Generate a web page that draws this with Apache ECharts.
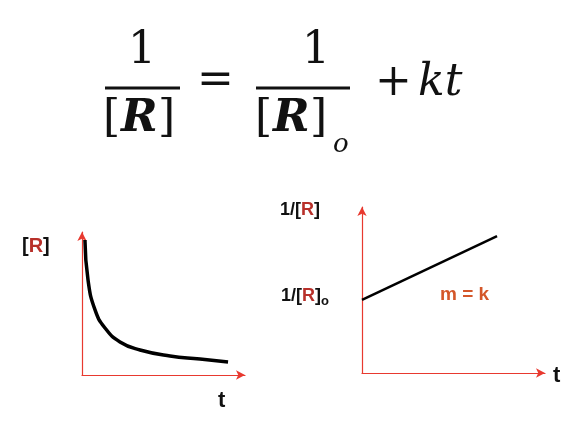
<!DOCTYPE html>
<html><head><meta charset="utf-8">
<script src="https://cdn.jsdelivr.net/npm/echarts@6/dist/echarts.min.js"></script>
<style>html,body{margin:0;padding:0;background:#fff}#c{width:578px;height:442px}</style>
</head><body><div id="c"></div>
<script>
const curveX = [0.18, 0.37, 0.8, 1.41, 2.33, 3.56, 5.4, 7.24, 8.96];
const curveY = [9.44, 6.64, 4.55, 3.29, 2.31, 1.75, 1.33, 1.12, 0.91];
const lineX = [0, 7.38];
const lineY = [4.4, 8.25];

const chart = echarts.init(document.getElementById('c'));
const red = '#e8392f', dark = '#b8302a', orange = '#d4572a';
const serif = 'DejaVu Serif';
function ax(gi){
  return {type:'value', gridIndex:gi, min:0, max:10, axisTick:{show:false}, axisLabel:{show:false}, splitLine:{show:false},
    axisLine:{show:true, symbol:['none','arrow'], symbolSize:[7,9], lineStyle:{color:red, width:1.2}}};
}
function rr(sz){ return {
  r:{fill:dark,fontWeight:'bold',fontSize:sz,fontFamily:'Liberation Sans'},
  k:{fill:'#111',fontWeight:'bold',fontSize:sz,fontFamily:'Liberation Sans'},
  s:{fill:'#111',fontWeight:'bold',fontSize:13,fontFamily:'Liberation Sans',padding:[10,0,0,0]}}; }
chart.setOption({
  animation:false,
  grid:[{left:82, top:232, width:163, height:143},{left:362, top:207, width:183, height:166}],
  xAxis:[ax(0),ax(1)], yAxis:[ax(0),ax(1)],
  series:[
    {type:'line', xAxisIndex:0, yAxisIndex:0, smooth:true, symbol:'none', lineStyle:{color:'#000', width:3.5}, data:curveX.map((x,i)=>[x,curveY[i]])},
    {type:'line', xAxisIndex:1, yAxisIndex:1, symbol:'none', lineStyle:{color:'#000', width:2.5}, data:lineX.map((x,i)=>[x,lineY[i]])}
  ],
  graphic:[
    {type:'text', left:128, top:30, style:{text:'1', font:'44px '+serif, fill:'#111'}},
    {type:'line', shape:{x1:105,y1:88,x2:180,y2:88}, style:{stroke:'#111', lineWidth:3}},
    {type:'text', left:103, top:98, style:{text:'[', font:'44px '+serif, fill:'#111'}},
    {type:'text', left:121, top:98, style:{text:'R', font:'bold italic 44px '+serif, fill:'#111'}},
    {type:'text', left:158, top:98, style:{text:']', font:'44px '+serif, fill:'#111'}},
    {type:'text', left:197, top:60, style:{text:'=', font:'44px '+serif, fill:'#111'}},
    {type:'text', left:302, top:30, style:{text:'1', font:'44px '+serif, fill:'#111'}},
    {type:'line', shape:{x1:256,y1:88,x2:350,y2:88}, style:{stroke:'#111', lineWidth:3}},
    {type:'text', left:255, top:98, style:{text:'[', font:'44px '+serif, fill:'#111'}},
    {type:'text', left:273, top:98, style:{text:'R', font:'bold italic 44px '+serif, fill:'#111'}},
    {type:'text', left:310, top:98, style:{text:']', font:'44px '+serif, fill:'#111'}},
    {type:'text', left:333, top:132, style:{text:'o', font:'italic 26px '+serif, fill:'#111'}},
    {type:'text', left:375, top:62, style:{text:'+', font:'44px '+serif, fill:'#111'}},
    {type:'text', left:418, top:62, style:{text:'kt', font:'italic 44px '+serif, fill:'#111'}},
    {type:'text', left:22, top:236, style:{text:'{k|[}{r|R}{k|]}', rich:rr(20)}},
    {type:'text', left:218, top:390, style:{text:'t', font:'bold 22px Liberation Sans', fill:'#111'}},
    {type:'text', left:280, top:201, style:{text:'{k|1/[}{r|R}{k|]}', rich:rr(18)}},
    {type:'text', left:281, top:287, style:{text:'{k|1/[}{r|R}{k|]}{s|o}', rich:rr(18)}},
    {type:'text', left:440, top:285, style:{text:'m = k', font:'bold 19px Liberation Sans', fill:orange}},
    {type:'text', left:553, top:365, style:{text:'t', font:'bold 22px Liberation Sans', fill:'#111'}}
  ]
});
</script></body></html>
